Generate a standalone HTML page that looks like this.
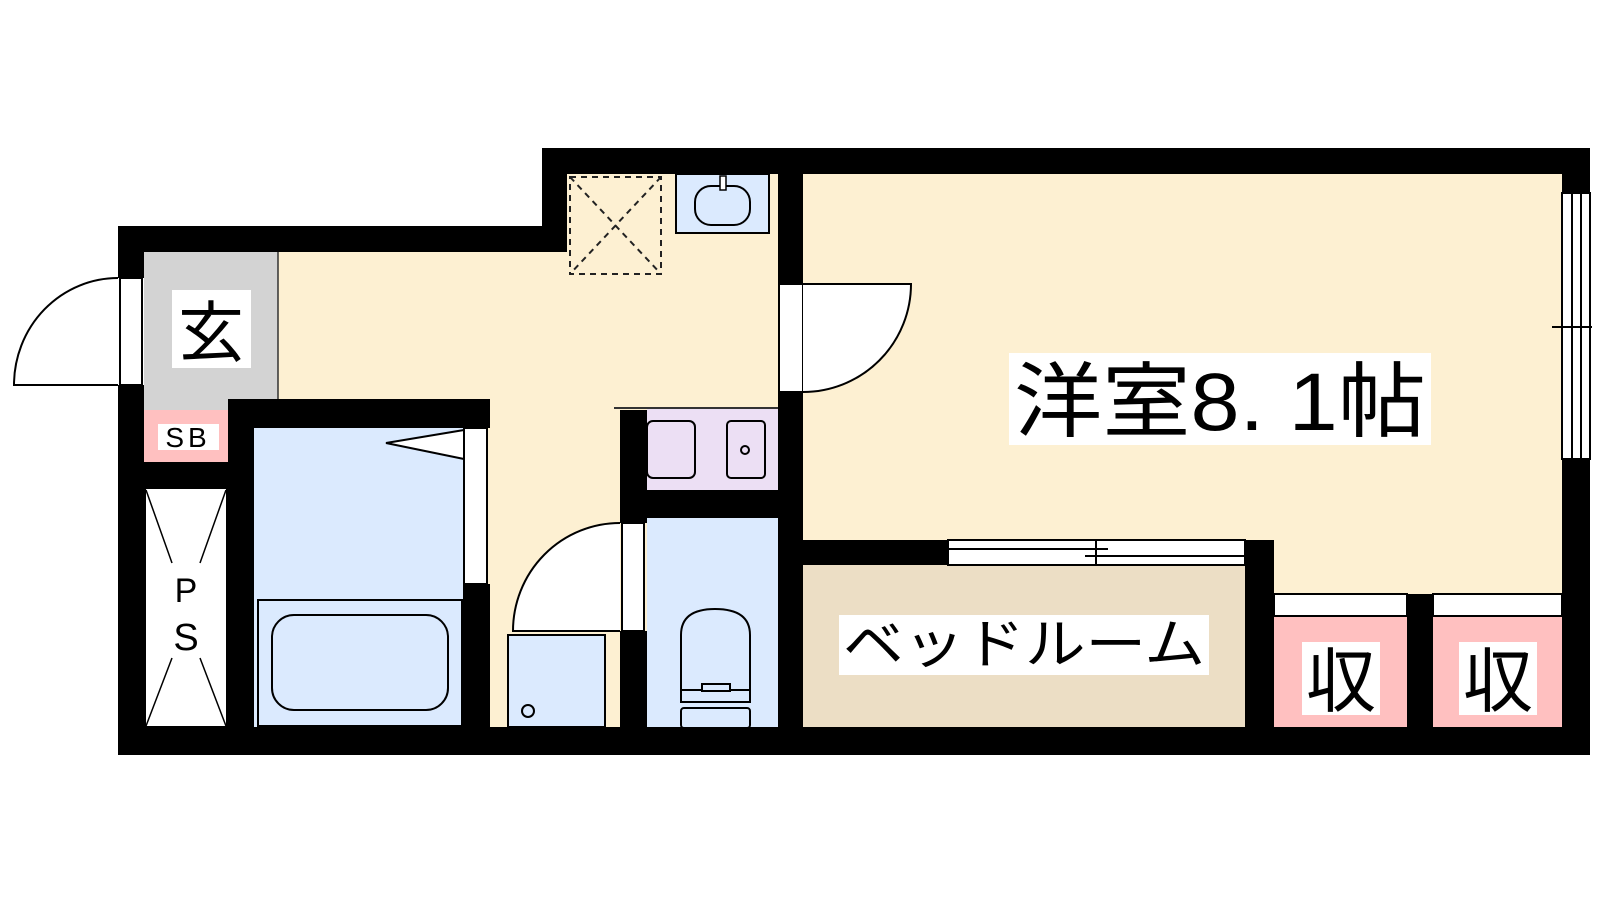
<!DOCTYPE html>
<html><head><meta charset="utf-8"><style>
html,body{margin:0;padding:0;background:#fff;width:1600px;height:900px;overflow:hidden}
svg{display:block}
text{font-family:"Liberation Sans","Noto Sans CJK JP",sans-serif;fill:#000}
</style></head><body>
<svg width="1600" height="900" viewBox="0 0 1600 900" xmlns="http://www.w3.org/2000/svg">
<rect x="278" y="252" width="500" height="476" fill="#fdf0d2"/>
<rect x="567" y="174" width="211" height="80" fill="#fdf0d2"/>
<rect x="803" y="174" width="760" height="368" fill="#fdf0d2"/>
<rect x="1274" y="540" width="289" height="60" fill="#fdf0d2"/>
<rect x="144" y="252" width="134" height="158" fill="#d3d3d3"/>
<line x1="278" y1="252" x2="278" y2="410" stroke="#333" stroke-width="1.5"/>
<rect x="144" y="410" width="84" height="52" fill="#ffc0c0"/>
<rect x="254" y="428" width="210" height="300" fill="#dbeafe"/>
<rect x="647" y="518" width="131" height="210" fill="#dbeafe"/>
<rect x="647" y="409" width="131" height="82" fill="#ecdff4"/>
<rect x="803" y="565" width="442" height="163" fill="#ecdec5"/>
<line x1="1247" y1="565" x2="1247" y2="728" stroke="#333" stroke-width="1.5"/>
<rect x="1274" y="616" width="133" height="112" fill="#ffc0c0"/>
<rect x="1433" y="616" width="129" height="112" fill="#ffc0c0"/>
<rect x="1274" y="594" width="133" height="22" fill="#fff" stroke="#000" stroke-width="2"/>
<rect x="1433" y="594" width="129" height="22" fill="#fff" stroke="#000" stroke-width="2"/>
<g fill="#000">
<rect x="118" y="226" width="449" height="26"/>
<rect x="542" y="148" width="25" height="104"/>
<rect x="542" y="148" width="1048" height="26"/>
<rect x="1562" y="148" width="28" height="45"/>
<rect x="1562" y="459" width="28" height="296"/>
<rect x="118" y="727" width="1472" height="28"/>
<rect x="118" y="226" width="26" height="52"/>
<rect x="118" y="385" width="26" height="370"/>
<rect x="228" y="399" width="262" height="29"/>
<rect x="228" y="399" width="26" height="328"/>
<rect x="144" y="462" width="84" height="26"/>
<rect x="463" y="584" width="27" height="143"/>
<rect x="778" y="174" width="25" height="110"/>
<rect x="778" y="392" width="25" height="336"/>
<rect x="620" y="410" width="27" height="113"/>
<rect x="620" y="490" width="158" height="28"/>
<rect x="620" y="631" width="27" height="97"/>
<rect x="803" y="540" width="145" height="25"/>
<rect x="1245" y="540" width="29" height="188"/>
<rect x="1407" y="594" width="26" height="134"/>
</g>
<line x1="614" y1="408" x2="778" y2="408" stroke="#333" stroke-width="2"/>
<rect x="120" y="278" width="22" height="107" fill="#fff" stroke="#000" stroke-width="2"/>
<path d="M118 278 A104 107 0 0 0 14 385 L118 385" fill="#fff" stroke="#000" stroke-width="2"/>
<rect x="464" y="428" width="23" height="156" fill="#fff" stroke="#000" stroke-width="2"/>
<polygon points="464,430 386,443 464,459" fill="#fff" stroke="#000" stroke-width="2"/>
<rect x="258" y="600" width="204" height="126" fill="#dbeafe" stroke="#000" stroke-width="2"/>
<rect x="272" y="615" width="176" height="95" rx="22" fill="#dbeafe" stroke="#000" stroke-width="2"/>
<rect x="145" y="488" width="82" height="239" fill="#fff" stroke="#000" stroke-width="2"/>
<g stroke="#000" stroke-width="1.5">
<line x1="146" y1="490" x2="172" y2="563"/><line x1="226" y1="490" x2="200" y2="563"/>
<line x1="146" y1="726" x2="172" y2="658"/><line x1="226" y1="726" x2="200" y2="658"/>
</g>
<text x="186" y="602" font-size="34" text-anchor="middle">P</text>
<text x="186" y="650" font-size="38" text-anchor="middle">S</text>
<rect x="172" y="290" width="79" height="78" fill="#fff"/>
<text x="211" y="356" font-size="66" text-anchor="middle">玄</text>
<rect x="158" y="424" width="61" height="26" fill="#fff"/>
<text x="188" y="447" font-size="28" text-anchor="middle" letter-spacing="4">SB</text>
<g stroke="#222" stroke-width="2" stroke-dasharray="6,5" fill="none">
<rect x="570" y="177" width="91" height="97"/>
<line x1="570" y1="177" x2="661" y2="274"/><line x1="661" y1="177" x2="570" y2="274"/>
</g>
<rect x="676" y="174" width="93" height="59" fill="#dbeafe" stroke="#000" stroke-width="2"/>
<rect x="695" y="186" width="55" height="39" rx="16" fill="#dbeafe" stroke="#000" stroke-width="2"/>
<rect x="720" y="176" width="6" height="14" fill="#fff" stroke="#000" stroke-width="1.5"/>
<rect x="647" y="421" width="48" height="57" rx="6" fill="none" stroke="#000" stroke-width="2"/>
<rect x="727" y="421" width="38" height="57" rx="4" fill="none" stroke="#000" stroke-width="2"/>
<circle cx="745" cy="450" r="4" fill="none" stroke="#000" stroke-width="2"/>
<rect x="622" y="523" width="22" height="108" fill="#fff" stroke="#000" stroke-width="2"/>
<path d="M620 523 A107 108 0 0 0 513 631 L620 631" fill="#fff" stroke="#000" stroke-width="2"/>
<rect x="508" y="635" width="97" height="92" fill="#dbeafe" stroke="#000" stroke-width="2"/>
<circle cx="528" cy="711" r="6" fill="none" stroke="#000" stroke-width="2"/>
<path d="M681 690 L681 635 Q681 609 715 609 Q750 609 750 635 L750 690" fill="#dbeafe" stroke="#000" stroke-width="2"/>
<rect x="681" y="690" width="69" height="12" fill="#dbeafe" stroke="#000" stroke-width="2"/>
<rect x="702" y="684" width="28" height="7" fill="#dbeafe" stroke="#000" stroke-width="2"/>
<rect x="681" y="708" width="69" height="20" rx="3" fill="#dbeafe" stroke="#000" stroke-width="2"/>
<rect x="779" y="284" width="24" height="108" fill="#fff" stroke="#000" stroke-width="2"/>
<path d="M803 284 L911 284 A108 108 0 0 1 803 392" fill="#fff" stroke="#000" stroke-width="2"/>
<rect x="1562" y="193" width="28" height="266" fill="#fff" stroke="#000" stroke-width="2"/>
<line x1="1572" y1="193" x2="1572" y2="459" stroke="#000" stroke-width="2"/>
<line x1="1581" y1="193" x2="1581" y2="459" stroke="#000" stroke-width="2"/>
<line x1="1552" y1="327" x2="1592" y2="327" stroke="#000" stroke-width="2"/>
<rect x="948" y="540" width="297" height="25" fill="#fff" stroke="#000" stroke-width="2"/>
<line x1="948" y1="549" x2="1108" y2="549" stroke="#000" stroke-width="2"/>
<line x1="1085" y1="556" x2="1245" y2="556" stroke="#000" stroke-width="2"/>
<line x1="1096" y1="541" x2="1096" y2="564" stroke="#000" stroke-width="2"/>
<rect x="1009" y="353" width="422" height="92" fill="#fff"/>
<text x="1014" y="430" font-size="82" textLength="412" lengthAdjust="spacingAndGlyphs">洋室8. 1帖</text>
<rect x="839" y="615" width="370" height="60" fill="#fff"/>
<text x="843" y="663" font-size="54" textLength="362" lengthAdjust="spacingAndGlyphs">ベッドルーム</text>
<rect x="1302" y="642" width="78" height="73" fill="#fff"/>
<text x="1341" y="706" font-size="70" text-anchor="middle">収</text>
<rect x="1459" y="642" width="78" height="73" fill="#fff"/>
<text x="1498" y="706" font-size="70" text-anchor="middle">収</text>
</svg>
</body></html>
